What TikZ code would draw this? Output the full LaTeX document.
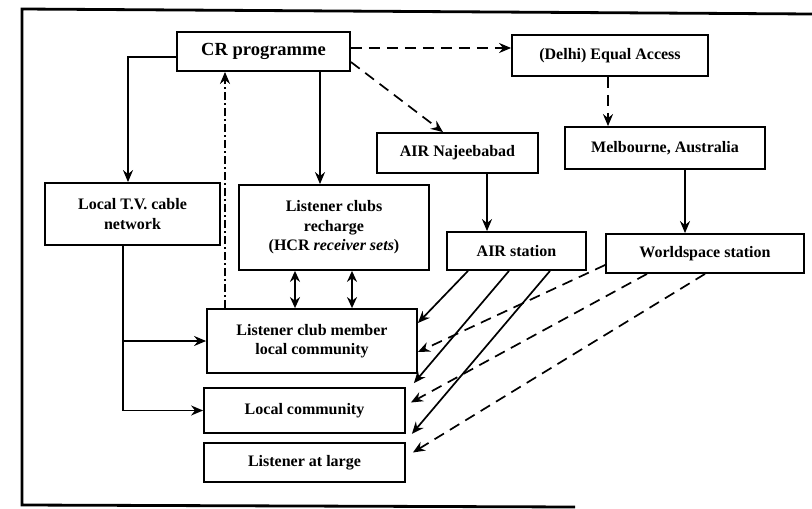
\documentclass[tikz,border=0pt]{standalone}
\usepackage{fontspec}
\setmainfont{Liberation Serif}
\usetikzlibrary{arrows.meta}
\begin{document}
\begin{tikzpicture}[x=1pt,y=-1pt,
  box/.style={draw,line width=1.8pt,inner sep=0pt,align=center,font=\fontsize{16}{19.5}\selectfont\bfseries},
  arr/.style={line width=1.7pt,-{Stealth[length=12pt,width=10pt]}},
  darr/.style={arr,dash pattern=on 11pt off 7pt},
  dblarr/.style={line width=1.7pt,{Stealth[length=11pt,width=10pt]}-{Stealth[length=11pt,width=10pt]}},
  ddot/.style={arr,dash pattern=on 8pt off 3pt on 2pt off 3pt}]
\useasboundingbox (0,0) rectangle (812,509);
% frame
\draw[line width=2.8pt] (812,14) -- (22,9) -- (22,505) -- (575,507);
% boxes
\node[box,minimum width=173pt,minimum height=39pt,font=\fontsize{18.5}{22}\selectfont\bfseries] (cr) at (263.5,51.5) {CR programme};
\node[box,minimum width=196pt,minimum height=41pt] (delhi) at (610,55.5) {(Delhi) Equal Access};
\node[box,minimum width=161pt,minimum height=40pt] (naj) at (457.5,153) {AIR Najeebabad};
\node[box,minimum width=200pt,minimum height=42pt] (mel) at (665,148) {Melbourne, Australia};
\node[box,minimum width=175pt,minimum height=62pt] (tv) at (132.5,214) {Local T.V. cable\\network};
\node[box,minimum width=190pt,minimum height=85pt] (rech) at (334,227.5) {Listener clubs\\recharge\\(HCR \textit{receiver sets})};
\node[box,minimum width=139pt,minimum height=38pt] (airst) at (516.5,251) {AIR station};
\node[box,minimum width=198pt,minimum height=39pt] (ws) at (705,253.5) {Worldspace station};
\node[box,minimum width=210pt,minimum height=64pt] (lcm) at (312,341) {Listener club member\\local community};
\node[box,minimum width=201pt,minimum height=45pt] (lc) at (304.5,410.5) {Local community};
\node[box,minimum width=201pt,minimum height=39pt] (lal) at (304.5,462.5) {Listener at large};
% connectors
\draw[arr] (cr.west |- 0,57) -| (tv.north -| 128,0);
\draw[arr] (tv.south -| 123,0) |- (lcm.west);
\draw[arr] (tv.south -| 123,0) |- (lc.west);
\draw[arr] (cr.south -| 320,0) -- (rech.north -| 320,0);
\draw[ddot] (lcm.north -| 225,0) -- (cr.south -| 225,0);
\draw[dblarr] (rech.south -| 295,0) -- (lcm.north -| 295,0);
\draw[dblarr] (rech.south -| 352,0) -- (lcm.north -| 352,0);
\draw[darr] (cr.east |- 0,48) -- (delhi.west |- 0,48);
\draw[darr] (cr.east |- 0,62) -- (naj.north -| 443,0);
\draw[darr] (delhi.south -| 608,0) -- (mel.north -| 608,0);
\draw[arr] (naj.south -| 487,0) -- (airst.north -| 487,0);
\draw[arr] (mel.south -| 685,0) -- (ws.north -| 685,0);
\draw[arr] (airst.south -| 468,0) -- (lcm.east |- 0,323);
\draw[arr] (airst.south -| 509,0) -- ([xshift=8pt,yshift=4pt]lc.north east);
\draw[arr] (airst.south -| 550,0) -- ([xshift=6pt]lc.south east);
\draw[darr] (ws.west |- 0,265) -- (lcm.east |- 0,352);
\draw[darr] (ws.south -| 647,0) -- ([xshift=5pt,yshift=8pt]lc.east);
\draw[darr] (ws.south -| 705,0) -- ([xshift=7pt,yshift=10pt]lal.east);
\end{tikzpicture}
\end{document}
